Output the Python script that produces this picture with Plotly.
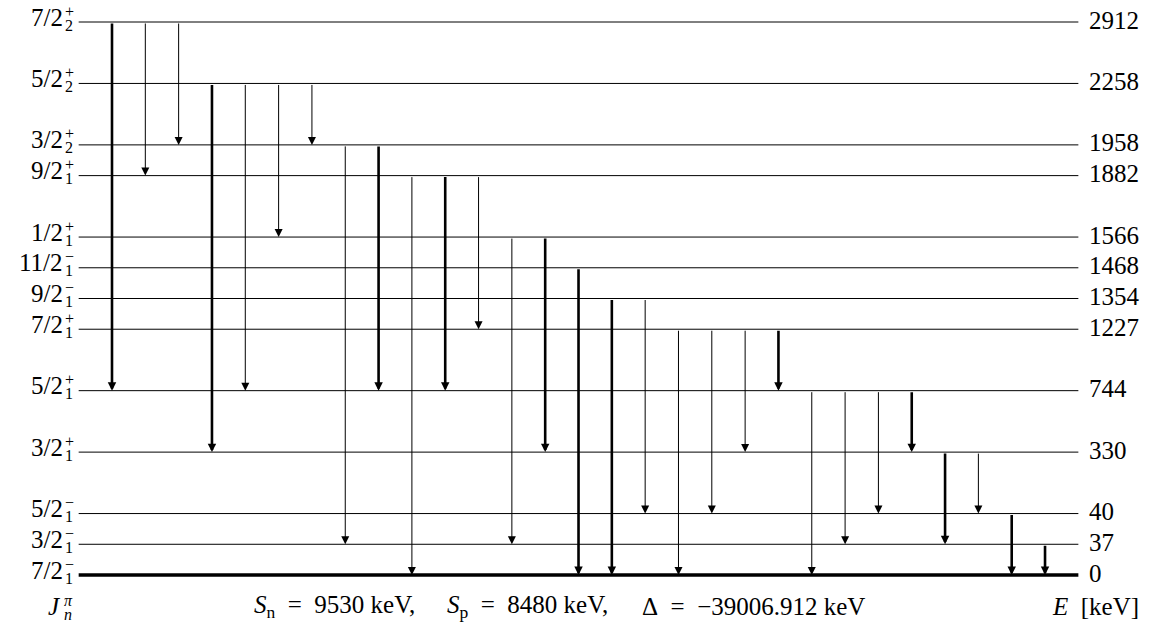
import plotly.graph_objects as go

# ---- data ----
energies = [0, 37, 40, 330, 744, 1227, 1354, 1468, 1566, 1882, 1958, 2258, 2912]
spins = ["7/2", "3/2", "5/2", "3/2", "5/2", "7/2", "9/2", "11/2", "1/2", "9/2", "3/2", "5/2", "7/2"]
parities = ["−", "−", "−", "+", "+", "+", "−", "−", "+", "+", "+", "+", "+"]
level_index = [1, 1, 1, 1, 1, 1, 1, 1, 1, 1, 2, 2, 2]

trans_from = [2912, 2912, 2912, 2258, 2258, 2258, 2258, 1958, 1958, 1882, 1882, 1882,
              1566, 1566, 1468, 1354, 1354, 1227, 1227, 1227, 1227, 744, 744, 744, 744,
              330, 330, 40, 37]
trans_to = [744, 1882, 1958, 330, 744, 1566, 1958, 37, 744, 0, 744, 1227,
            37, 330, 0, 0, 40, 0, 40, 330, 744, 0, 37, 40, 330,
            37, 40, 0, 0]
trans_strong = [1, 0, 0, 1, 0, 0, 0, 0, 1, 0, 1, 0,
                0, 1, 1, 1, 0, 0, 0, 0, 1, 0, 0, 0, 1,
                1, 0, 1, 1]

S_n, S_p, mass_excess = "9530", "8480", "−39006.912"

# ---- layout helpers ----
W, H = 1150, 633
FONT = "Liberation Serif, serif"
EN = "\u2002"
footer_parts = [
    (334, f"<i>S</i><sub>n</sub>{EN}={EN}{S_n} keV,"),
    (527, f"<i>S</i><sub>p</sub>{EN}={EN}{S_p} keV,"),
    (754, f"Δ{EN}={EN}{mass_excess} keV"),
]

# vertical slots: wider gap for large energy differences
slots = [0]
for i in range(1, len(energies)):
    slots.append(slots[-1] + (2 if energies[i] - energies[i - 1] > 200 else 1))
slot_of = dict(zip(energies, slots))

n_tr = len(trans_from)
xmin, xmax = -2.361, 32.15
ymin, ymax = -1.888, 18.716

fig = go.Figure()
shapes = []
annotations = []

for e, s in zip(energies, slots):
    shapes.append(dict(type="line", xref="x", yref="y", x0=0, x1=n_tr + 1, y0=s, y1=s,
                       line=dict(color="black", width=3.5 if e == 0 else 1)))

for i, (ef, et, st) in enumerate(zip(trans_from, trans_to, trans_strong)):
    xpos = i + 1
    annotations.append(dict(
        x=xpos, y=slot_of[et], ax=xpos, ay=slot_of[ef], xref="x", yref="y",
        axref="x", ayref="y", text="", showarrow=True, arrowhead=2,
        arrowwidth=2.6 if st else 1.0, arrowsize=0.65 if st else 1.6,
        arrowcolor="black", standoff=0, startstandoff=0))

for e, s, sp, par, idx in zip(energies, slots, spins, parities, level_index):
    annotations.append(dict(x=1087 / W, y=s, xref="paper", yref="y", text=str(e),
                            showarrow=False, xanchor="left", yanchor="middle", yshift=2,
                            font=dict(family=FONT, size=25, color="black")))
    annotations.append(dict(x=65 / W, y=s, xref="paper", yref="y", text=sp,
                            showarrow=False, xanchor="right", yanchor="middle", yshift=5,
                            font=dict(family=FONT, size=25, color="black")))
    annotations.append(dict(x=63 / W, y=s, xref="paper", yref="y", text=par,
                            showarrow=False, xanchor="left", yanchor="middle", yshift=11,
                            font=dict(family=FONT, size=16, color="black")))
    annotations.append(dict(x=63 / W, y=s, xref="paper", yref="y", text=str(idx),
                            showarrow=False, xanchor="left", yanchor="middle", yshift=-3,
                            font=dict(family=FONT, size=16, color="black")))

yb = 1 - 606 / H
annotations.append(dict(x=63 / W, y=yb, xref="paper", yref="paper", text="<i>J</i>",
                        showarrow=False, xanchor="right", yanchor="middle",
                        font=dict(family=FONT, size=25, color="black")))
annotations.append(dict(x=62 / W, y=yb, xref="paper", yref="paper", text="<i>π</i>",
                        showarrow=False, xanchor="left", yanchor="middle", yshift=6,
                        font=dict(family=FONT, size=16, color="black")))
annotations.append(dict(x=62 / W, y=yb, xref="paper", yref="paper", text="<i>n</i>",
                        showarrow=False, xanchor="left", yanchor="middle", yshift=-8,
                        font=dict(family=FONT, size=16, color="black")))
for xp, txt in footer_parts:
    annotations.append(dict(x=xp / W, y=yb, xref="paper", yref="paper", text=txt,
                            showarrow=False, xanchor="center", yanchor="middle",
                            font=dict(family=FONT, size=25, color="black")))
annotations.append(dict(x=1141 / W, y=yb, xref="paper", yref="paper", text=f"<i>E</i>{EN}[keV]",
                        showarrow=False, xanchor="right", yanchor="middle",
                        font=dict(family=FONT, size=25, color="black")))

fig.update_layout(
    width=W, height=H, margin=dict(l=0, r=0, t=0, b=0),
    paper_bgcolor="white", plot_bgcolor="white",
    xaxis=dict(range=[xmin, xmax], visible=False, fixedrange=True),
    yaxis=dict(range=[ymin, ymax], visible=False, fixedrange=True),
    shapes=shapes, annotations=annotations, showlegend=False,
)

fig.write_html("out.html")
